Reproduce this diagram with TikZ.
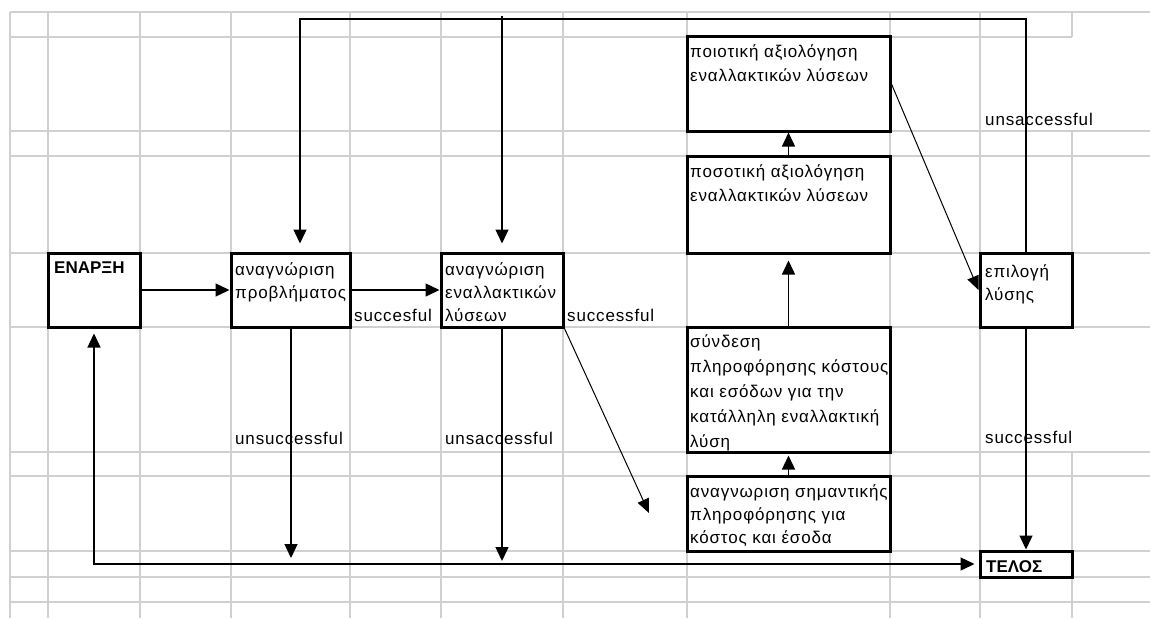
\documentclass[tikz,border=0pt]{standalone}
\usepackage{fontspec}
\setmainfont{Liberation Sans}
\newfontfamily\cellfont{Liberation Sans}[LetterSpace=5]
\usetikzlibrary{arrows.meta}
\definecolor{gridgray}{RGB}{208,208,208}

\tikzset{
  gridline/.style={draw=gridgray, line width=1.3pt},
  cell/.style={draw=black, line width=3pt, fill=white, rectangle, inner sep=0pt},
  celltext/.style={anchor=base west, inner sep=0pt, font=\cellfont\fontsize{17}{#1}\selectfont},
  celltext/.default=24,
  boldtext/.style={anchor=base west, inner sep=0pt, font=\bfseries\fontsize{17}{24}\selectfont},
  flow/.style={draw=black, line width=1.4pt, -{Triangle[length=14pt,width=13pt]}},
  flowthin/.style={draw=black, line width=1pt, -{Triangle[length=14pt,width=12pt]}},
  loopflow/.style={draw=black, line width=1.4pt, {Triangle[length=14pt,width=13pt]}-{Triangle[length=14pt,width=13pt]}}
}

\newcommand{\rows}[1]{\begin{tabular}[t]{@{}l@{}}#1\end{tabular}}

\begin{document}
\begin{tikzpicture}[x=1pt,y=-1pt]
\useasboundingbox (0,0) rectangle (1150,618);
\fill[white] (0,0) rectangle (1150,618);

% spreadsheet grid
\foreach \gx in {10,48,140,231,350,441,563,687,890,980}
  \draw[gridline] (\gx,12) -- (\gx,618);
\draw[gridline] (1072,12) -- (1072,37);
\draw[gridline] (1072,131) -- (1072,327);
\draw[gridline] (1072,452) -- (1072,618);
\foreach \gy in {12,131,156,253,327,452,476,551,577,602}
  \draw[gridline] (10,\gy) -- (1150,\gy);
\draw[gridline] (10,37) -- (1072,37);

% boxes
\node[cell, minimum width=92pt,  minimum height=74pt] (enarxi) at (94,290) {};
\node[cell, minimum width=119pt, minimum height=74pt] (prob)   at (290.5,290) {};
\node[cell, minimum width=122pt, minimum height=74pt] (alt)    at (502,290) {};
\node[cell, minimum width=203pt, minimum height=94pt] (qual)   at (788.5,84) {};
\node[cell, minimum width=203pt, minimum height=97pt] (quant)  at (788.5,204.5) {};
\node[cell, minimum width=203pt, minimum height=125pt] (synd)  at (788.5,389.5) {};
\node[cell, minimum width=203pt, minimum height=75pt] (imp)    at (788.5,513.5) {};
\node[cell, minimum width=92pt,  minimum height=74pt] (epil)   at (1026,290) {};
\node[cell, minimum width=92pt,  minimum height=26pt] (telos)  at (1026,564) {};

% box texts
\node[boldtext] (enarxiT) at (54,273) {ΕΝΑΡΞΗ};
\node[celltext=23.5] (probT) at (235,275) {\rows{αναγνώριση\\προβλήματος}};
\node[celltext=23] (altT) at (445,275) {\rows{αναγνώριση\\εναλλακτικών\\λύσεων}};
\node[celltext] (qualT) at (690,58) {\rows{ποιοτική αξιολόγηση\\εναλλακτικών λύσεων}};
\node[celltext] (quantT) at (690,177) {\rows{ποσοτική αξιολόγηση\\εναλλακτικών λύσεων}};
\node[celltext=25] (syndT) at (690,347) {\rows{σύνδεση\\πληροφόρησης κόστους\\και εσόδων για την\\κατάλληλη εναλλακτική\\λύση}};
\node[celltext=23] (impT) at (690,497) {\rows{αναγνωριση σημαντικής\\πληροφόρησης για\\κόστος και έσοδα}};
\node[celltext=23] (epilT) at (985,277) {\rows{επιλογή\\λύσης}};
\node[boldtext] (telosT) at (986,572) {ΤΕΛΟΣ};

% outcome labels
\node[celltext] (l1) at (354,321) {succesful};
\node[celltext] (l2) at (567,321) {successful};
\node[celltext] (l3) at (235,444) {unsuccessful};
\node[celltext] (l4) at (445,444) {unsaccessful};
\node[celltext] (l5) at (985,443) {successful};
\node[celltext] (l6) at (985,125) {unsaccessful};

% free ends and bends
\coordinate (fbL) at (300,19);
\coordinate (fbB) at (502,16);
\coordinate (altEnd) at (649,513);
\coordinate (probEnd) at (291,558);
\coordinate (altDown) at (502,561);

% connectors
\draw[flow] (enarxi.east) -- (prob.west);
\draw[flow] (prob.east) -- (alt.west);
\draw[flow, shorten >=8pt] (epil.north) |- (fbL) -- (fbL |- prob.north);
\draw[flow, shorten >=8pt] (fbB) -- (alt.north);
\draw[flowthin] (alt.south east) -- (altEnd);
\draw[flowthin] (qual.east) -- (epil.west);
\draw[flow, shorten >=6pt] (synd.north) -- (quant.south);
\draw[flow] (quant.north) -- (qual.south);
\draw[flow, shorten >=2pt] (imp.north) -- (synd.south);
\draw[flow] (prob.south -| probEnd) -- (probEnd);
\draw[flow] (alt.south) -- (altDown);
\draw[flow] (epil.south) -- (telos.north);
\draw[loopflow, shorten <=5pt, shorten >=4pt] (enarxi.south) |- (telos.west);
\end{tikzpicture}
\end{document}
